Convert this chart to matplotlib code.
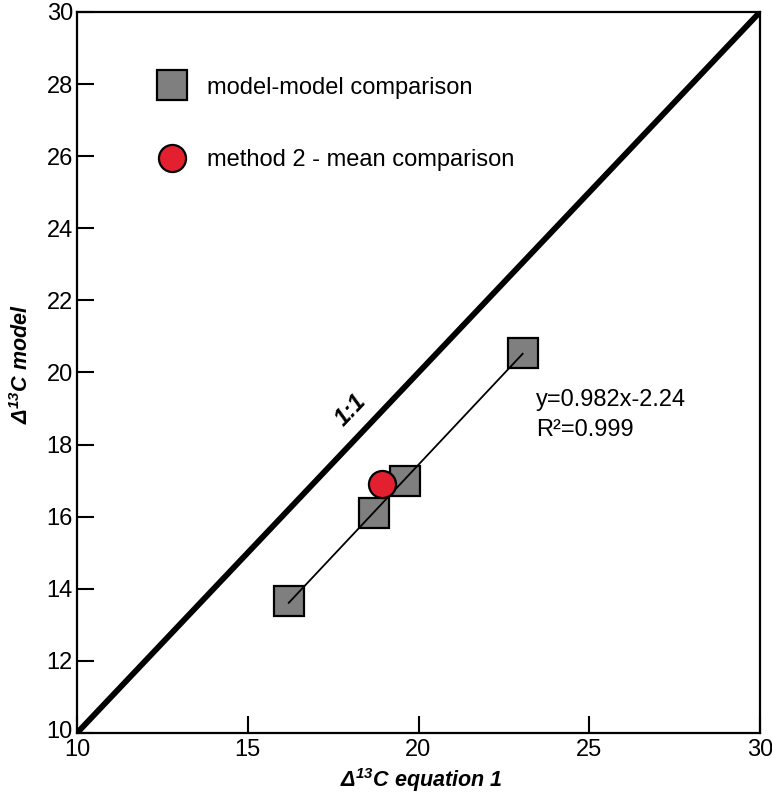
import matplotlib
matplotlib.use("Agg")
import matplotlib.pyplot as plt
import matplotlib.transforms as mtransforms
import numpy as np
from matplotlib.lines import Line2D

plt.rcParams['font.family'] = ['Liberation Sans', 'DejaVu Sans']
plt.rcParams['mathtext.fontset'] = 'custom'
plt.rcParams['mathtext.rm'] = 'Liberation Sans:italic:bold'
plt.rcParams['mathtext.it'] = 'Liberation Sans:italic:bold'
plt.rcParams['mathtext.bf'] = 'Liberation Sans:italic:bold'
plt.rcParams['mathtext.default'] = 'rm'

# data
model_eq1 = [16.2, 18.7, 19.6, 23.05]
model_model = [13.65, 16.1, 17.0, 20.55]
method2_eq1 = [18.93]
method2_model = [16.9]
fit_slope = 0.982
fit_intercept = -2.24
fit_r2 = 0.999
xticks = [10, 15, 20, 25, 30]
yticks = [10, 12, 14, 16, 18, 20, 22, 24, 26, 28, 30]

fig = plt.figure(figsize=(7.72, 7.94), dpi=100)
ax = fig.add_axes([77/772, 1-733/794, (760-77)/772, (733-12)/794])

# 1:1 line
ax.plot([10, 30], [10, 30], color='black', lw=4.2, solid_capstyle='butt', zorder=2)

# regression line over range of squares
xs = np.array([min(model_eq1), max(model_eq1)])
p = np.polyfit(model_eq1, model_model, 1)
ax.plot(xs, np.polyval(p, xs), color='black', lw=1.3, zorder=4.5)

ax.plot(model_eq1, model_model, ls='none', marker='s', ms=21, mfc='#7f7f7f',
        mec='black', mew=1.6, zorder=4)
ax.plot(method2_eq1, method2_model, ls='none', marker='o', ms=19.5, mfc='#e3202f',
        mec='black', mew=1.6, zorder=5)

ax.set_xlim(10, 30)
ax.set_ylim(10, 30)
ax.set_xticks(xticks)
ax.set_yticks(yticks)
ax.tick_params(direction='in', length=12.5, width=1.5, labelsize=17, pad=4)
ax.tick_params(axis='y', pad=3)
for s in ax.spines.values():
    s.set_linewidth(1.6)
# nudge the lowest y label up a little, as in the reference
ylabels = ax.get_yticklabels()
ylabels[0].set_transform(ylabels[0].get_transform() +
                         mtransforms.ScaledTranslation(0, 4/100, fig.dpi_scale_trans))

lab_font = dict(family=['Liberation Sans', 'DejaVu Sans'],
                fontweight='bold', fontstyle='italic', fontsize=15.5)
ax.set_xlabel(r'$\Delta^{13}$C equation 1', **lab_font)
ax.set_ylabel(r'$\Delta^{13}$C model', **lab_font)
ax.xaxis.set_label_coords(0.504, -0.046)
ax.yaxis.set_label_coords(-0.064, 0.512)

ax.text(18.0, 18.95, '1:1', rotation=46.5, ha='center', va='center', fontsize=17,
        fontweight='bold', fontstyle='italic')
ax.text(23.45, 19.25, f'y={fit_slope}x{fit_intercept}', fontsize=17, va='center', ha='left')
ax.text(23.45, 18.4, f'R\u00b2={fit_r2}', fontsize=17, va='center', ha='left')

handles = [
    Line2D([], [], ls='none', marker='s', ms=21, mfc='#7f7f7f', mec='black', mew=1.6),
    Line2D([], [], ls='none', marker='o', ms=19.5, mfc='#e3202f', mec='black', mew=1.6),
]
ax.legend(handles, ['model-model comparison', 'method 2 - mean comparison'],
          loc='upper left', bbox_to_anchor=(0.082, 0.94), frameon=False,
          fontsize=17, labelspacing=2.15, handletextpad=0.75, handlelength=1.5)

fig.savefig('out.png', dpi=100)
